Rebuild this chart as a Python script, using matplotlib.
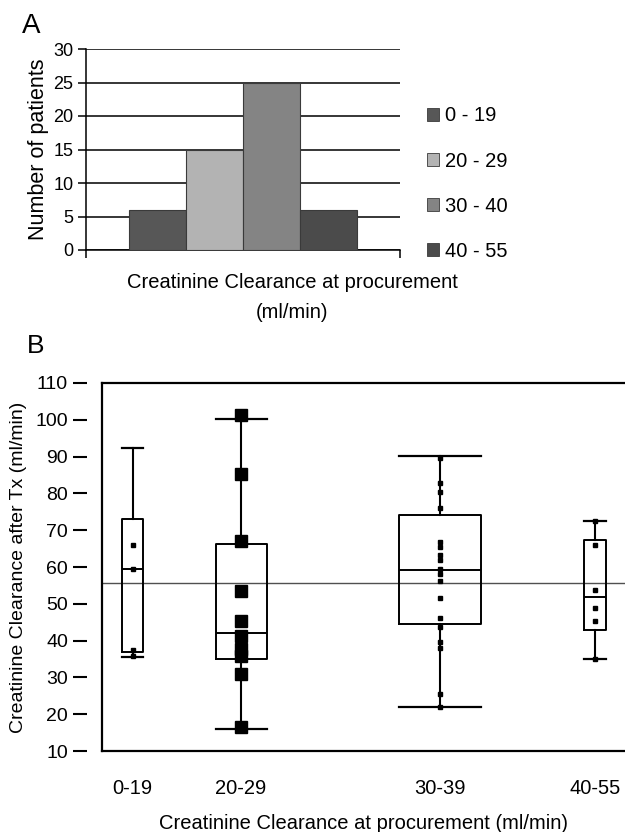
import matplotlib
matplotlib.use("Agg")
import matplotlib.pyplot as plt
from matplotlib.patches import Patch

plt.rcParams['font.family'] = ['Liberation Sans', 'DejaVu Sans']

# Panel A data
ranges_a = ["0 - 19", "20 - 29", "30 - 40", "40 - 55"]
patients = [6, 15, 25, 6]
bar_colors = ["#575757", "#b3b3b3", "#848484", "#4b4b4b"]

# Panel B data
groups = ["0-19", "20-29", "30-39", "40-55"]
group_pos = [0.305, 1.39, 3.38, 4.93]
box_widths = [0.21, 0.51, 0.82, 0.22]
whis_lo = [35.5, 16.0, 22.0, 34.9]
q1 = [37.0, 35.0, 44.5, 42.8]
median = [59.5, 42.2, 59.2, 51.8]
q3 = [73.0, 66.2, 74.1, 67.3]
whis_hi = [92.3, 100.3, 90.2, 72.5]
points = [
    [66.0, 59.5, 37.5, 35.7],
    [101.4, 85.3, 67.1, 53.4, 45.2, 41.3, 37.7, 35.7, 31.0, 16.5],
    [89.6, 82.8, 80.5, 76.1, 66.7, 65.5, 63.2, 61.9, 59.5, 58.1, 56.2,
     51.5, 46.1, 43.6, 39.5, 38.1, 25.4, 22.0],
    [72.4, 65.9, 53.8, 48.8, 45.4, 34.9],
]
marker_sizes = [3.2, 8.6, 3.2, 3.2]
overall_mean = 55.7

fig = plt.figure(figsize=(6.25, 8.32), dpi=100)

# ---------------- Panel A ----------------
axA = fig.add_axes([86/625, 1-250/832, 314/625, 201/832])
xa = range(len(patients))
axA.set_axisbelow(True)
axA.bar(xa, patients, width=1.0, color=bar_colors, edgecolor="#3a3a3a",
        linewidth=0.8, zorder=3)
axA.set_xlim(-1.246, 4.26)
axA.set_ylim(0, 30)
axA.set_yticks(range(0, 31, 5))
axA.grid(axis='y', color='black', linewidth=1.1, zorder=0)
axA.set_xticks([-1.246, 4.26])
axA.set_xticklabels([])
axA.tick_params(axis='x', length=6, width=1.1, direction='out')
axA.tick_params(axis='y', length=6, width=1.1, labelsize=13, pad=3)
for s in ['top', 'right']:
    axA.spines[s].set_visible(False)
for s in ['left', 'bottom']:
    axA.spines[s].set_linewidth(1.1)
axA.set_ylabel("Number of patients", fontsize=15.5, labelpad=3)
fig.text(292/625, 1-283/832, "Creatinine Clearance at procurement",
         ha='center', va='center', fontsize=14.5)
fig.text(292/625, 1-312/832, "(ml/min)", ha='center', va='center', fontsize=14.5)
handles = [Patch(facecolor=c, edgecolor="#3a3a3a", linewidth=0.6) for c in bar_colors]
axA.legend(handles, ranges_a, loc='center left', bbox_to_anchor=(1.06, 0.33),
           frameon=False, fontsize=14.5, handlelength=0.6, handleheight=0.6,
           handletextpad=0.3, labelspacing=1.3, borderaxespad=0)
fig.text(22/625, 1-26/832, "A", fontsize=20, va='center', ha='left')

# ---------------- Panel B ----------------
axB = fig.add_axes([102/625, 1-751/832, 523/625, 368/832])
stats = []
for i in range(len(groups)):
    stats.append(dict(med=median[i], q1=q1[i], q3=q3[i],
                      whislo=whis_lo[i], whishi=whis_hi[i], fliers=[]))
axB.bxp(stats, positions=group_pos, widths=box_widths, capwidths=box_widths,
        showfliers=False, manage_ticks=False,
        boxprops=dict(color='black', linewidth=1.4),
        medianprops=dict(color='black', linewidth=1.4),
        whiskerprops=dict(color='black', linewidth=1.5),
        capprops=dict(color='black', linewidth=1.6))
for i in range(len(groups)):
    axB.plot([group_pos[i]] * len(points[i]), points[i], 's', color='black',
             markersize=marker_sizes[i], zorder=4)
axB.axhline(overall_mean, color='#505050', linewidth=1.0, zorder=1)
axB.set_xlim(0, 5.23)
axB.set_ylim(10, 110)
axB.set_yticks(range(10, 111, 10))
axB.set_xticks(group_pos)
axB.set_xticklabels(groups)
axB.tick_params(axis='x', length=0, pad=20, labelsize=14.5)
axB.tick_params(axis='y', length=10, width=1.5, direction='out', pad=3.5, labelsize=14)
axB.spines['left'].set_position(('outward', 11))
axB.spines['left'].set_visible(False)
axB.spines['right'].set_visible(False)
axB.spines['top'].set_linewidth(1.6)
axB.spines['bottom'].set_linewidth(1.6)
axB.axvline(0, color='black', linewidth=1.6, clip_on=False)
axB.set_xlabel("Creatinine Clearance at procurement (ml/min)", fontsize=14.5, labelpad=12)
axB.set_ylabel("Creatinine Clearance after Tx (ml/min)", fontsize=14, labelpad=6)
fig.text(27/625, 1-346/832, "B", fontsize=19, va='center', ha='left')

fig.savefig("out.png", dpi=100)
